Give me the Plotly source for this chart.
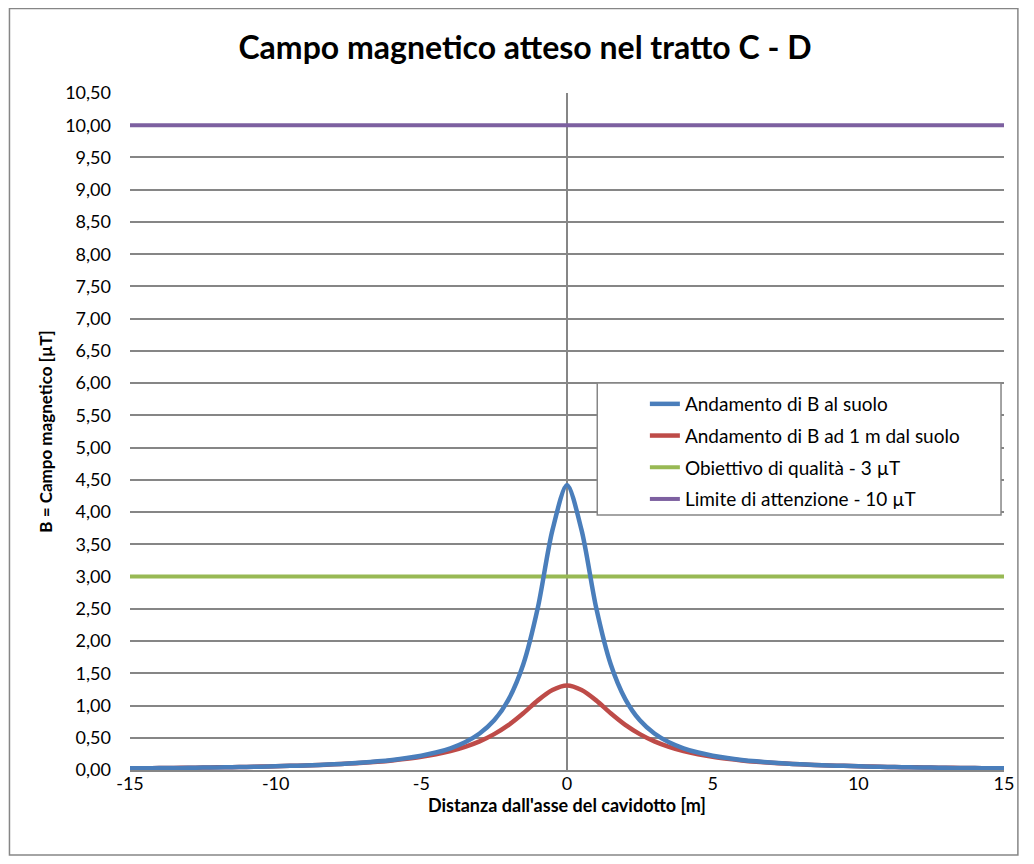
import plotly.graph_objects as go

# Distance from cable axis [m]
x_dist = [-15, -14.5, -14, -13.5, -13, -12.5, -12, -11.5, -11, -10.5, -10,
          -9.5, -9, -8.5, -8, -7.5, -7, -6.5, -6, -5.5, -5,
          -4.5, -4, -3.5, -3, -2.5, -2, -1.5, -1, -0.5, 0,
          0.5, 1, 1.5, 2, 2.5, 3, 3.5, 4, 4.5, 5,
          5.5, 6, 6.5, 7, 7.5, 8, 8.5, 9, 9.5, 10,
          10.5, 11, 11.5, 12, 12.5, 13, 13.5, 14, 14.5, 15]

# B at ground level [uT]
b_suolo = [0.026, 0.028, 0.030, 0.032, 0.034, 0.037, 0.040, 0.044, 0.048, 0.052, 0.058,
           0.064, 0.071, 0.079, 0.089, 0.101, 0.116, 0.134, 0.156, 0.185, 0.222,
           0.271, 0.337, 0.430, 0.566, 0.77, 1.10, 1.64, 2.52, 3.72, 4.42,
           3.72, 2.52, 1.64, 1.10, 0.77, 0.566, 0.430, 0.337, 0.271, 0.222,
           0.185, 0.156, 0.134, 0.116, 0.101, 0.089, 0.079, 0.071, 0.064, 0.058,
           0.052, 0.048, 0.044, 0.040, 0.037, 0.034, 0.032, 0.030, 0.028, 0.026]

# B at 1 m above ground [uT]
b_1m = [0.026, 0.028, 0.030, 0.032, 0.035, 0.038, 0.041, 0.044, 0.048, 0.053, 0.058,
        0.064, 0.071, 0.079, 0.088, 0.099, 0.113, 0.129, 0.149, 0.174, 0.204,
        0.243, 0.293, 0.359, 0.444, 0.557, 0.70, 0.88, 1.08, 1.24, 1.31,
        1.24, 1.08, 0.88, 0.70, 0.557, 0.444, 0.359, 0.293, 0.243, 0.204,
        0.174, 0.149, 0.129, 0.113, 0.099, 0.088, 0.079, 0.071, 0.064, 0.058,
        0.053, 0.048, 0.044, 0.041, 0.038, 0.035, 0.032, 0.030, 0.028, 0.026]

limit_x = [-15, 15]
obiettivo = [3.0, 3.0]
attenzione = [10.0, 10.0]

y_ticks = [i * 0.5 for i in range(22)]
y_tick_text = [f"{v:.2f}".replace(".", ",") for v in y_ticks]
x_ticks = [-15, -10, -5, 0, 5, 10, 15]
x_tick_text = ["-15", "-10", "-5", "0", "5", "10", "15"]

names = ["Andamento di B al suolo", "Andamento di B ad 1 m dal suolo",
         "Obiettivo di qualità - 3 µT", "Limite di attenzione - 10 µT"]
colors = ["#4A7EBB", "#BE4B48", "#98B954", "#7D60A0"]

FONT = "Lato"

fig = go.Figure()
fig.add_trace(go.Scatter(x=limit_x, y=attenzione, mode="lines", name=names[3],
                         line=dict(color=colors[3], width=4), legendrank=4, legendgroup="d"))
fig.add_trace(go.Scatter(x=limit_x, y=obiettivo, mode="lines", name=names[2],
                         line=dict(color=colors[2], width=4), legendrank=3, legendgroup="c"))
fig.add_trace(go.Scatter(x=x_dist, y=b_1m, mode="lines", name=names[1],
                         line=dict(color=colors[1], width=4.5, shape="spline", smoothing=0.8),
                         legendrank=2, legendgroup="b"))
fig.add_trace(go.Scatter(x=x_dist, y=b_suolo, mode="lines", name=names[0],
                         line=dict(color=colors[0], width=4.5, shape="spline", smoothing=0.8),
                         legendrank=1, legendgroup="a"))

# page has an 8px body margin; figure coordinates = screen - 8
W, H = 1018, 848
L, R, T, B = 122, 15, 85, 86
pw, ph = W - L - R, H - T - B

def px(xp):
    return (xp - L) / pw

def py(yp):
    return (H - B - yp) / ph

fig.update_layout(
    width=W, height=H,
    margin=dict(l=L, r=R, t=T, b=B),
    paper_bgcolor="white", plot_bgcolor="white",
    font=dict(family=FONT, color="black", size=15),
    title=dict(text="<b>Campo magnetico atteso nel tratto C - D</b>",
               x=517 / W, xanchor="center", y=1 - 40 / H, yanchor="middle",
               font=dict(family=FONT, size=32, color="black")),
    showlegend=True,
    legend=dict(x=px(641), y=py(377), xanchor="left", yanchor="top",
                bgcolor="rgba(0,0,0,0)", borderwidth=0,
                font=dict(family=FONT, size=19, color="black"),
                tracegroupgap=4, traceorder="grouped"),
    xaxis=dict(range=[-15, 15], tickvals=x_ticks, ticktext=x_tick_text,
               showgrid=False, zeroline=True,
               zerolinecolor="#868686", zerolinewidth=1.5,
               showline=True, linecolor="#868686", linewidth=1.5,
               ticks="", ticklabelstandoff=-3, tickfont=dict(family=FONT, size=18),
               title=dict(text="<b>Distanza dall'asse del cavidotto [m]</b>",
                          font=dict(family=FONT, size=18), standoff=2)),
    yaxis=dict(range=[0, 10.5], tickvals=y_ticks, ticktext=y_tick_text,
               showgrid=True, gridcolor="#868686", gridwidth=1.5,
               zeroline=False, showline=False, ticks="",
               ticklabelstandoff=18, tickfont=dict(family=FONT, size=18),
               title=dict(text="<b>B = Campo magnetico [µT]</b>",
                          font=dict(family=FONT, size=17), standoff=8)),
    shapes=[
        dict(type="rect", xref="paper", yref="paper",
             x0=px(593), x1=px(1000), y0=py(507), y1=py(375),
             fillcolor="white", line=dict(color="#868686", width=1.5), layer="above"),
        dict(type="rect", xref="paper", yref="paper",
             x0=px(0.5), x1=px(1017), y0=py(847), y1=py(0.5),
             fillcolor="rgba(0,0,0,0)", line=dict(color="#868686", width=1.5), layer="below"),
    ],
)

fig.write_html("out.html")
